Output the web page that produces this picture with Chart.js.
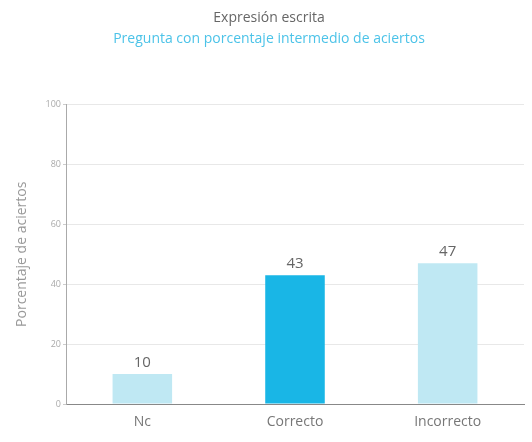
<!DOCTYPE html>
<html>
<head>
<meta charset="utf-8">
<script src="https://cdn.jsdelivr.net/npm/chart.js@4"></script>
<style>
    html, body { margin: 0; padding: 0; background: #fff; }
    #grafik { display: block; }
</style>
</head>
<body>
<canvas id="grafik" width="532" height="442"></canvas>
<script>
const kategorier = ['Nc', 'Correcto', 'Incorrecto'];
const verdier = [10, 43, 47];
const farger = ['#bfe8f3', '#19b6e6', '#bfe8f3'];
const yTicks = [0, 20, 40, 60, 80, 100];

const fontFamilie = '"Open Sans", "Noto Sans", sans-serif';

// Skriver verdien over hver søyle
const verdiEtiketter = {
    id: 'verdiEtiketter',
    afterDatasetsDraw(chart) {
        const ctx = chart.ctx;
        const meta = chart.getDatasetMeta(0);
        ctx.save();
        ctx.font = '15px ' + fontFamilie;
        ctx.fillStyle = '#666';
        ctx.textAlign = 'center';
        ctx.textBaseline = 'bottom';
        meta.data.forEach((bar, i) => {
            ctx.fillText(verdier[i], bar.x, bar.y - 4);
        });
        ctx.restore();
    }
};

new Chart(document.getElementById('grafik'), {
    type: 'bar',
    data: {
        labels: kategorier,
        datasets: [{
            data: verdier,
            backgroundColor: farger,
            barPercentage: 0.39,
            categoryPercentage: 1
        }]
    },
    options: {
        responsive: false,
        animation: false,
        layout: { padding: { left: 14, right: 8, top: 0, bottom: 0 } },
        plugins: {
            legend: { display: false },
            tooltip: { enabled: false },
            title: {
                display: true,
                text: 'Expresión escrita',
                color: '#666',
                font: { family: fontFamilie, size: 14, weight: 'normal' },
                padding: { top: 10, bottom: 4 }
            },
            subtitle: {
                display: true,
                text: 'Pregunta con porcentaje intermedio de aciertos',
                color: '#4cc3e8',
                font: { family: fontFamilie, size: 14, weight: 'normal' },
                padding: { top: 0, bottom: 57 }
            }
        },
        scales: {
            x: {
                grid: { display: false },
                border: { color: '#888', width: 1 },
                ticks: {
                    color: '#777',
                    font: { family: fontFamilie, size: 14 },
                    padding: 2
                },
                afterFit(scale) { scale.height = 38; }
            },
            y: {
                min: 0,
                max: 100,
                afterBuildTicks(scale) {
                    scale.ticks = yTicks.map(v => ({ value: v }));
                },
                grid: {
                    color: '#e8e8e8',
                    tickColor: '#ccc',
                    tickLength: 3
                },
                border: { color: '#aaa', width: 1 },
                ticks: {
                    color: '#aaa',
                    font: { family: fontFamilie, size: 9 },
                    padding: 2
                },
                title: {
                    display: true,
                    text: 'Porcentaje de aciertos',
                    color: '#999',
                    font: { family: fontFamilie, size: 14 },
                    padding: { top: 0, bottom: 4 }
                },
                afterFit(scale) { scale.width = 52; }
            }
        }
    },
    plugins: [verdiEtiketter]
});
</script>
</body>
</html>
